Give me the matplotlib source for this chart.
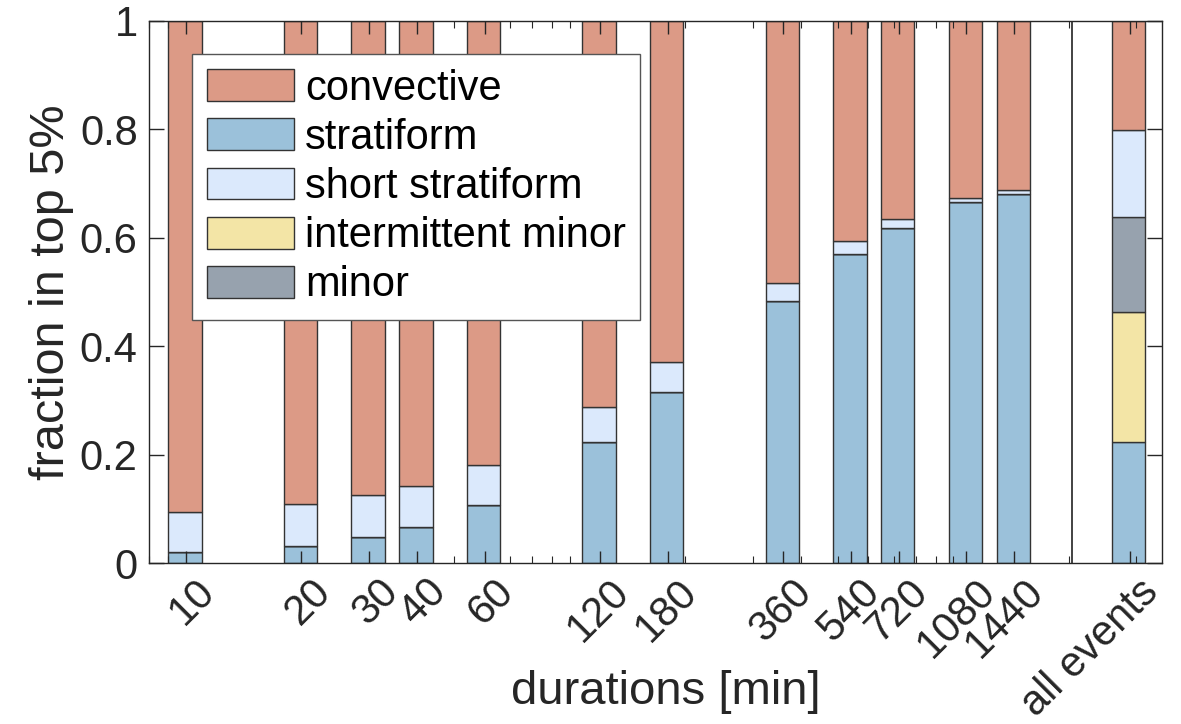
import numpy as np
import matplotlib.pyplot as plt
import matplotlib.transforms as mtransforms
from matplotlib.ticker import LogLocator, NullFormatter, FixedLocator

plt.rcParams['font.family'] = ['Liberation Sans', 'DejaVu Sans']

durations = [10, 20, 30, 40, 60, 120, 180, 360, 540, 720, 1080, 1440]
all_pos = 2880
tick_labels = ['10', '20', '30', '40', '60', '120', '180', '360', '540',
               '720', '1080', '1440', 'all events']

# fractions per class, last entry = all events
stratiform = [0.021, 0.031, 0.048, 0.066, 0.108, 0.224, 0.316, 0.484, 0.571, 0.619, 0.666, 0.681, 0.224]
interm_minor = [0, 0, 0, 0, 0, 0, 0, 0, 0, 0, 0, 0, 0.239]
minor = [0, 0, 0, 0, 0, 0, 0, 0, 0, 0, 0, 0, 0.175]
short_strat = [0.074, 0.078, 0.078, 0.077, 0.073, 0.064, 0.055, 0.033, 0.023, 0.015, 0.008, 0.007, 0.161]
convective = [0.905, 0.891, 0.874, 0.857, 0.819, 0.712, 0.629, 0.483, 0.406, 0.366, 0.326, 0.312, 0.201]

c_conv = '#dc9a86'
c_strat = '#9bc1da'
c_short = '#dbe9fc'
c_int = '#f3e5a6'
c_minor = '#97a2ae'

x = np.array(durations + [all_pos], dtype=float)
left = 0.9 * x
width = 0.2 * x

fig = plt.figure(figsize=(11.81, 7.24), dpi=100)
ax = fig.add_axes([0.126, 0.222, 0.858, 0.749])

kw = dict(align='edge', edgecolor='#333333', linewidth=1.0)
bottom = np.zeros(len(x))
layers = [('stratiform', stratiform, c_strat),
          ('intermittent minor', interm_minor, c_int),
          ('minor', minor, c_minor),
          ('short stratiform', short_strat, c_short),
          ('convective', convective, c_conv)]
handles = {}
for name, vals, col in layers:
    vals = np.array(vals)
    b = ax.bar(left, vals, width=width, bottom=bottom, color=col, label=name, **kw)
    handles[name] = b
    bottom += vals

ax.axvline(2036, color='#222222', linewidth=1.2)

ax.set_xscale('log')
ax.set_xlim(8, 3500)
ax.set_ylim(0, 1)

ax.xaxis.set_major_locator(FixedLocator(x))
ax.set_xticklabels(tick_labels, rotation=45, ha='right', va='top', rotation_mode='anchor')
ax.xaxis.set_minor_locator(LogLocator(base=10, subs=np.arange(1, 10), numticks=20))
ax.xaxis.set_minor_formatter(NullFormatter())

ax.set_yticks([0, 0.2, 0.4, 0.6, 0.8, 1])
ax.set_yticklabels(['0', '0.2', '0.4', '0.6', '0.8', '1'])

ax.tick_params(axis='both', which='major', direction='in', top=True, right=True,
               labelsize=30, color='#262626', labelcolor='#262626', width=1.0)
ax.tick_params(axis='x', which='major', length=9, pad=6)
ax.tick_params(axis='y', which='major', length=11, pad=8)
ax.tick_params(axis='x', which='minor', direction='in', top=True, length=5,
               color='#262626', width=0.8)
for s in ax.spines.values():
    s.set_color('#262626')
    s.set_linewidth(1.0)

# nudge rotated labels to the right, like the reference
shift = mtransforms.ScaledTranslation(9 / 100, 0, fig.dpi_scale_trans)
for lab in ax.get_xticklabels():
    lab.set_transform(lab.get_transform() + shift)

ax.set_xlabel('durations [min]', fontsize=34, color='#262626', va='center')
ax.xaxis.set_label_coords(0.51, -0.237)
ax.set_ylabel('fraction in top 5%', fontsize=35, color='#262626', labelpad=4)

order = ['convective', 'stratiform', 'short stratiform', 'intermittent minor', 'minor']
leg = ax.legend([handles[n] for n in order], order, loc='upper left',
                bbox_to_anchor=(0.043, 0.939), fontsize=30, frameon=True,
                fancybox=False, edgecolor='#555555', framealpha=1,
                handlelength=2.1, handleheight=0.8, labelspacing=0.22,
                borderpad=0.35, handletextpad=0.25, borderaxespad=0)
leg.get_frame().set_linewidth(1.0)

fig.savefig('out.png', dpi=100)
